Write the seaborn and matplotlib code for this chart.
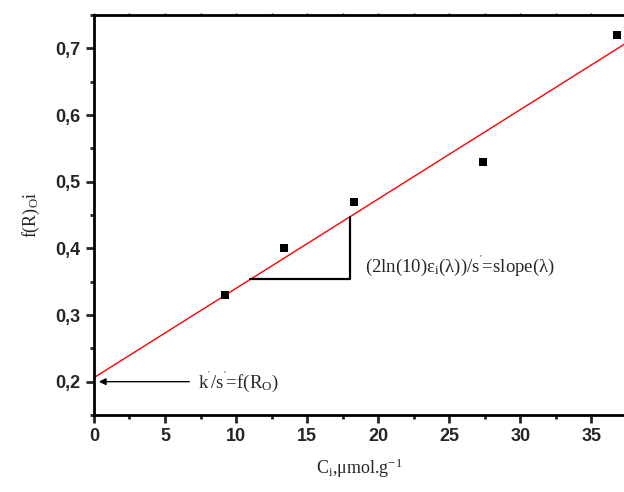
import matplotlib
matplotlib.use("Agg")
import matplotlib.pyplot as plt
import numpy as np
import pandas as pd
import seaborn as sns
from matplotlib.ticker import FuncFormatter, MultipleLocator

# measured points
conc = [9.2, 13.4, 18.3, 27.4, 36.8]
f_r = [0.33, 0.40, 0.47, 0.53, 0.72]

# linear fit
intercept = 0.206
slope = 0.0134

x_range = (0, 37.3)
y_range = (0.15, 0.75)
x_ticks = [0, 5, 10, 15, 20, 25, 30, 35]
y_ticks = [0.2, 0.3, 0.4, 0.5, 0.6, 0.7]

# slope triangle corners (x start, x end)
tri_x = (11.0, 18.0)

sns.set_theme(style="white")
plt.rcParams["font.family"] = ["Liberation Sans", "DejaVu Sans"]

fig = plt.figure(figsize=(6.24, 4.92), dpi=100)
ax = fig.add_axes([0.1506, 0.1565, 0.8494, 0.813])

df = pd.DataFrame({"C": conc, "f": f_r})
sns.scatterplot(data=df, x="C", y="f", marker="s", s=40, color="black",
                edgecolor="black", linewidth=0, ax=ax, zorder=3)

line_x = np.array(x_range)
fit = pd.DataFrame({"C": line_x, "f": intercept + slope * line_x})
sns.lineplot(data=fit, x="C", y="f", color="red", linewidth=1, ax=ax)

# slope triangle
y_lo = intercept + slope * tri_x[0]
y_hi = intercept + slope * tri_x[1]
ax.plot([tri_x[0], tri_x[1], tri_x[1]], [y_lo, y_lo, y_hi], color="black", lw=1.6)

serif = ["Liberation Serif", "DejaVu Serif"]
ax.text(19.1, 0.374, r"(2ln(10)$\mathregular{\varepsilon_i}$(λ))/s$\mathregular{^{'}}$=slope(λ)",
        fontsize=13.5, family=serif, va="center", ha="left")

ax.annotate("", xy=(0.15, 0.2), xytext=(6.9, 0.2),
            arrowprops=dict(arrowstyle="-|>", color="black", lw=1, mutation_scale=10))
ax.text(7.3, 0.2, r"k$\mathregular{^{'}}$/s$\mathregular{^{'}}$=f(R$\mathregular{_O}$)",
        fontsize=13.5, family=serif, va="center", ha="left")

ax.set_xlim(*x_range)
ax.set_ylim(*y_range)
ax.set_xticks(x_ticks)
ax.set_yticks(y_ticks)
ax.xaxis.set_minor_locator(MultipleLocator(2.5))
ax.yaxis.set_minor_locator(MultipleLocator(0.05))
ax.yaxis.set_major_formatter(FuncFormatter(lambda v, p: f"{v:.1f}".replace(".", ",")))

ax.set_xlabel(r"C$\mathregular{_i}$,μmol.g$\mathregular{^{-1}}$", fontsize=13, family=serif, labelpad=8)
ax.set_ylabel(r"f(R)$\mathregular{_O}$i", fontsize=13, family=serif, labelpad=10)

for side in ["left", "bottom", "top"]:
    ax.spines[side].set_linewidth(2)
    ax.spines[side].set_color("black")
ax.spines["right"].set_visible(False)

ax.tick_params(which="major", direction="out", length=6, width=2, labelsize=13,
               left=True, bottom=True)
ax.tick_params(which="minor", direction="out", length=3, width=2,
               left=True, bottom=True)
ax.tick_params(axis="x", which="both", top=True, labeltop=False, length=1.5, width=1)
ax.tick_params(axis="x", which="both", bottom=True)
ax.tick_params(axis="x", which="major", length=6, width=2)
ax.tick_params(axis="x", which="minor", length=3, width=2)
ax.xaxis.set_tick_params(which="both", top=True)
for t in ax.xaxis.get_major_ticks() + ax.xaxis.get_minor_ticks():
    t.tick2line.set_markersize(1.5)
    t.tick2line.set_markeredgewidth(1)
for lab in ax.get_xticklabels() + ax.get_yticklabels():
    lab.set_fontweight("bold")

fig.savefig("out.png", dpi=100)
